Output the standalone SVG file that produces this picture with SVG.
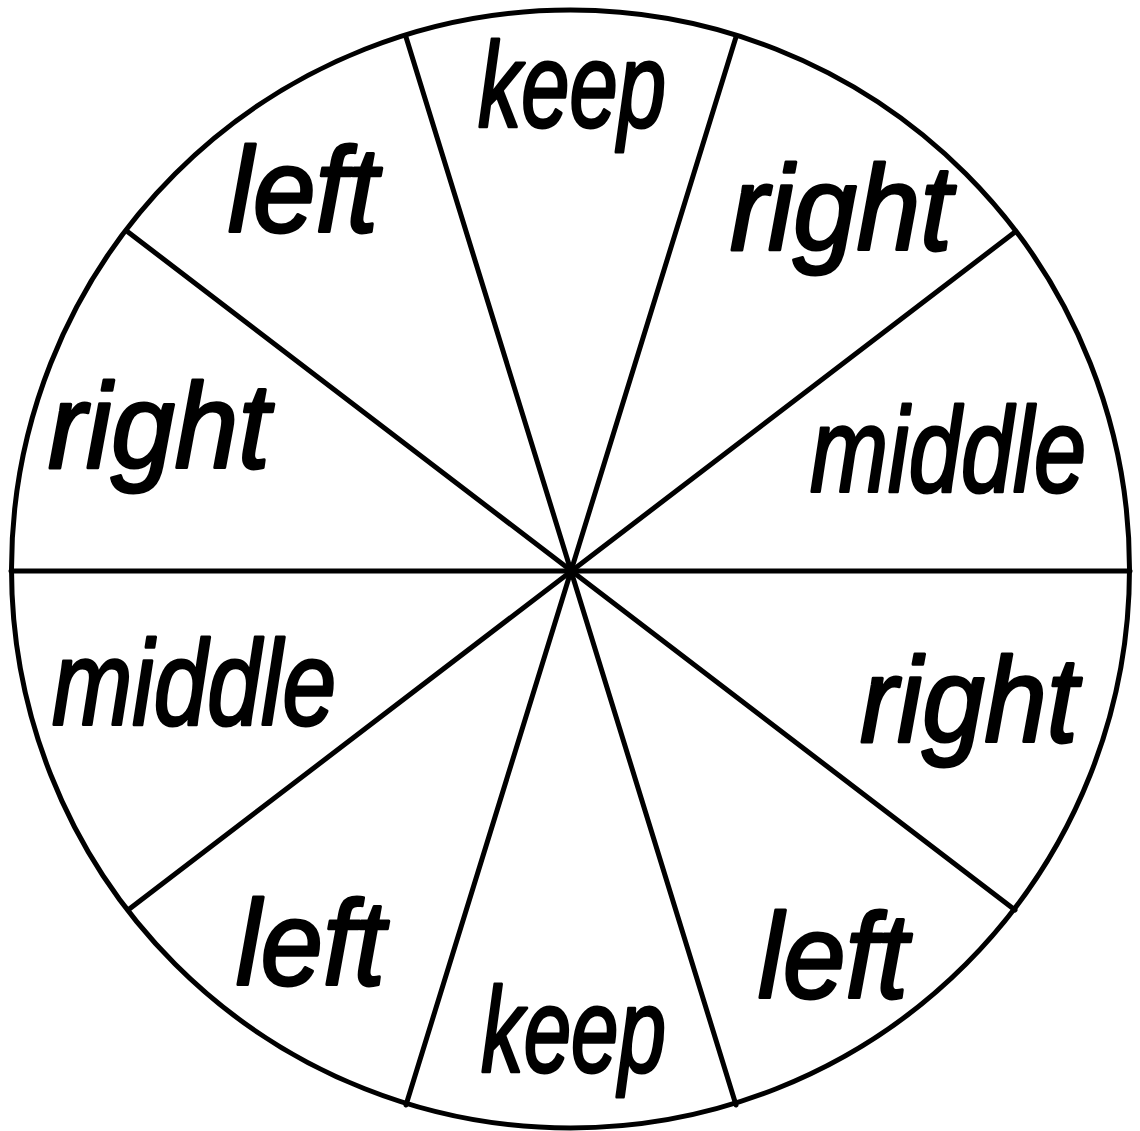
<svg xmlns="http://www.w3.org/2000/svg" width="1140" height="1131" viewBox="0 0 1140 1131">
<style>
.ln{stroke:#000;stroke-width:5;fill:none;stroke-linecap:round}
.t{font-family:"Liberation Sans",Arial,sans-serif;font-style:italic;font-size:120px;fill:#000;stroke:#000;stroke-width:3;stroke-linejoin:round}
</style>
<rect width="1140" height="1131" fill="#fff"/>
<g id="connectors">
<circle class="ln" cx="570.5" cy="569" r="559"/>
<line class="ln" x1="11" y1="571" x2="1130" y2="571"/>
<line class="ln" x1="406" y1="37" x2="736" y2="1105"/>
<line class="ln" x1="736" y1="37" x2="406" y2="1105"/>
<line class="ln" x1="128" y1="232" x2="1015" y2="910"/>
<line class="ln" x1="1015" y1="232" x2="128" y2="910"/>
</g>
<g id="seg-keep-top"><text class="t" x="478" y="127" textLength="188" lengthAdjust="spacingAndGlyphs">keep</text></g>
<g id="seg-right-upper"><text class="t" x="730" y="250" textLength="222" lengthAdjust="spacingAndGlyphs">right</text></g>
<g id="seg-middle-right"><text class="t" x="810" y="492" textLength="276" lengthAdjust="spacingAndGlyphs">middle</text></g>
<g id="seg-right-lower"><text class="t" x="860" y="742" textLength="218" lengthAdjust="spacingAndGlyphs">right</text></g>
<g id="seg-left-lower-right"><text class="t" x="758" y="998" textLength="150" lengthAdjust="spacingAndGlyphs">left</text></g>
<g id="seg-keep-bottom"><text class="t" x="481" y="1072" textLength="185" lengthAdjust="spacingAndGlyphs">keep</text></g>
<g id="seg-left-lower-left"><text class="t" x="236" y="985" textLength="149" lengthAdjust="spacingAndGlyphs">left</text></g>
<g id="seg-middle-left"><text class="t" x="52" y="725" textLength="284" lengthAdjust="spacingAndGlyphs">middle</text></g>
<g id="seg-right-left"><text class="t" x="48" y="468" textLength="222" lengthAdjust="spacingAndGlyphs">right</text></g>
<g id="seg-left-upper"><text class="t" x="228" y="232" textLength="150" lengthAdjust="spacingAndGlyphs">left</text></g>
</svg>
